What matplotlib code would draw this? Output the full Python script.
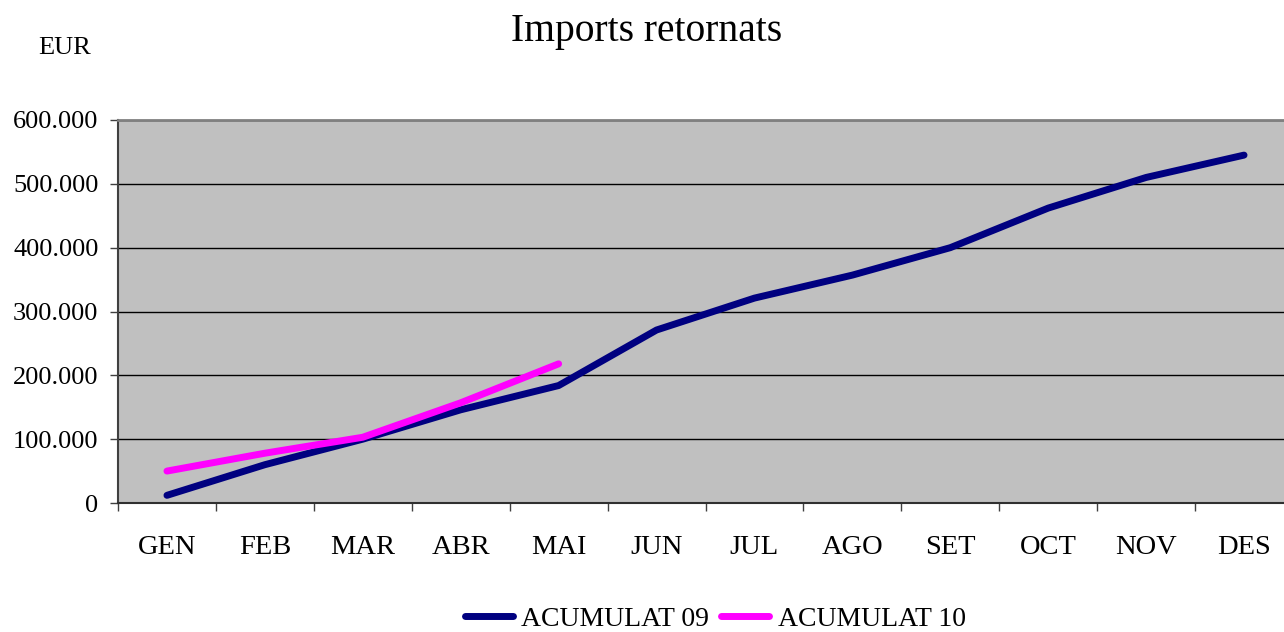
import numpy as np
import matplotlib
matplotlib.use('Agg')
from matplotlib import pyplot as plt
from matplotlib.ticker import FuncFormatter, FixedLocator

#%% Data
months = ['GEN', 'FEB', 'MAR', 'ABR', 'MAI', 'JUN', 'JUL', 'AGO', 'SET', 'OCT', 'NOV', 'DES']
acumulat_09 = [12000, 60000, 100000, 146000, 184000, 271000, 321000, 357000, 400000, 462000, 510000, 545000]
acumulat_10 = [50000, 78000, 103000, 157000, 218000]

#%% Plot
plt.rcParams['font.family'] = ['Liberation Serif', 'DejaVu Serif']
fs = 19

fig = plt.figure(figsize=[12.84, 6.32], dpi=100)
ax = fig.add_axes([118/1284, (632-503)/632, (1293-118)/1284, (503-120)/632])
ax.set_facecolor('#C0C0C0')

x = np.arange(len(months))
ax.plot(x, acumulat_09, '-', color='#000080', lw=5, solid_capstyle='round',
        solid_joinstyle='round', label='ACUMULAT 09')
ax.plot(x[:len(acumulat_10)], acumulat_10, '-', color='#FF00FF', lw=5,
        solid_capstyle='round', solid_joinstyle='round', label='ACUMULAT 10')

ax.set_xlim(-0.5, len(months) - 0.5)
ax.set_ylim(0, 600000)
ax.set_yticks(np.arange(0, 600001, 100000))
ax.yaxis.set_major_formatter(FuncFormatter(lambda v, p: f'{int(v):,}'.replace(',', '.')))
ax.yaxis.grid(True, color='black', lw=1)
ax.set_axisbelow(True)

ax.set_xticks(x)
ax.set_xticklabels(months)
ax.xaxis.set_minor_locator(FixedLocator(np.arange(-0.5, len(months), 1)))
ax.tick_params(axis='x', which='major', length=0, pad=23, labelsize=20.5)
ax.tick_params(axis='x', which='minor', length=6, width=1, color='#404040', direction='out')
ax.tick_params(axis='y', length=6, width=1, color='#404040', direction='out', pad=8, labelsize=fs)

ax.spines['top'].set_color('#808080')
ax.spines['top'].set_linewidth(2)
ax.spines['right'].set_visible(False)
ax.spines['left'].set_color('#404040')
ax.spines['left'].set_linewidth(1.5)
ax.spines['bottom'].set_color('#303030')
ax.spines['bottom'].set_linewidth(1.5)

fig.text(647/1284, 1 - 31/632, 'Imports retornats', ha='center', va='center', fontsize=28.5)
fig.text(65/1284, 1 - 48/632, 'EUR', ha='center', va='center', fontsize=fs)

fig.legend(loc='center', bbox_to_anchor=(715/1284, 1 - 619/632), ncol=2, frameon=False,
           fontsize=20, handlelength=1.75, handletextpad=0.3, columnspacing=0.4,
           borderaxespad=0)

plt.savefig('out.png', dpi=100)
